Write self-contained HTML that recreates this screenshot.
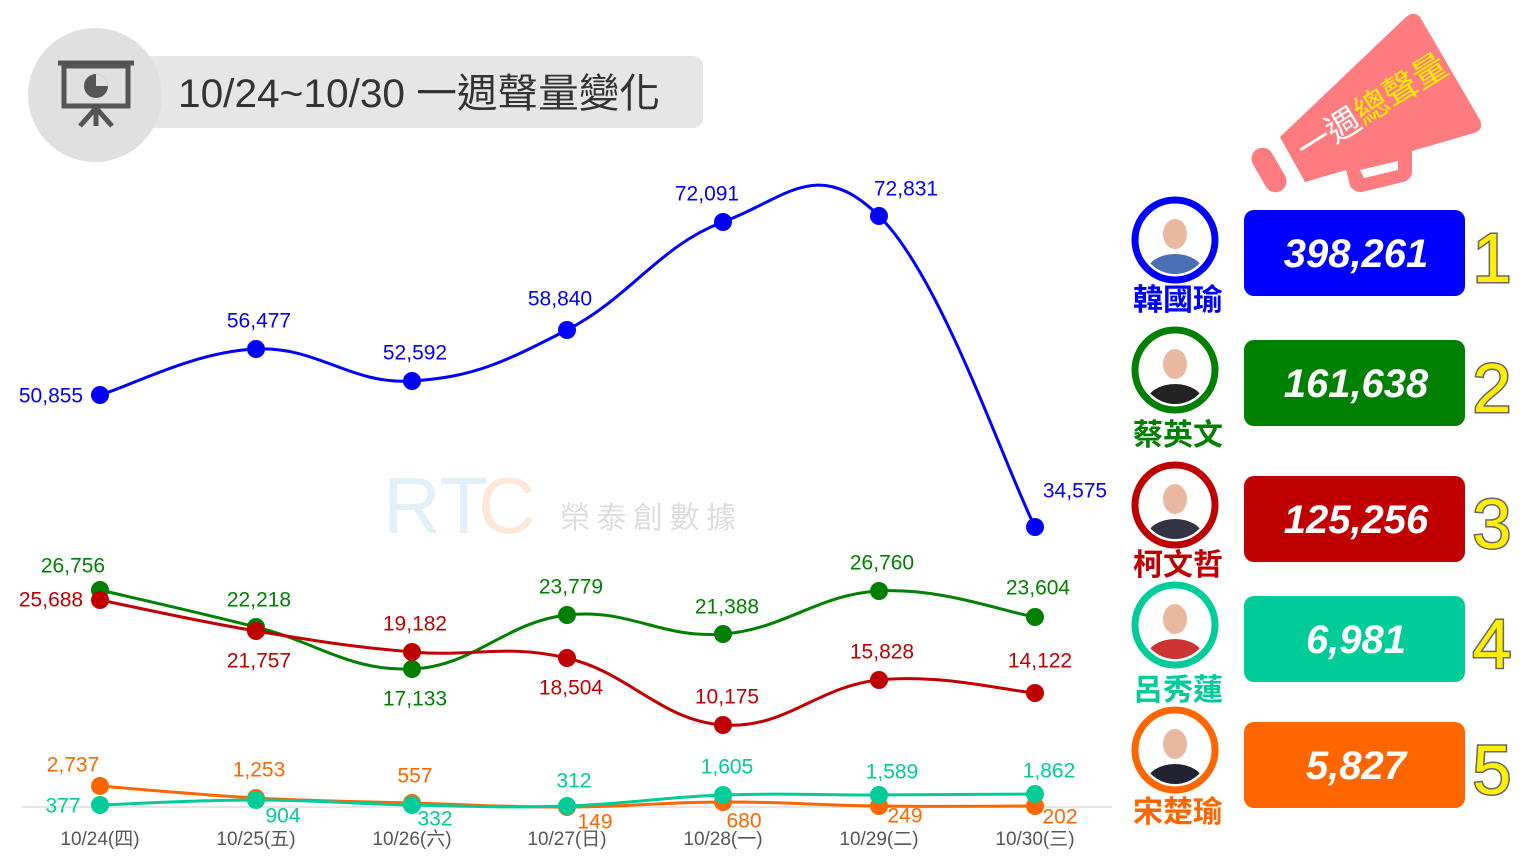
<!DOCTYPE html>
<html><head><meta charset="utf-8"><style>
html,body{margin:0;padding:0;background:#fff;}
body{width:1536px;height:864px;overflow:hidden;position:relative;font-family:"Liberation Sans","Noto Sans CJK TC",sans-serif;}
</style></head><body>
<svg id="s" width="1536" height="864" viewBox="0 0 1536 864" xmlns="http://www.w3.org/2000/svg" style="position:absolute;left:0;top:0;font-family:'Liberation Sans','Noto Sans CJK TC',sans-serif">
<rect x="130" y="56" width="573" height="72" rx="10" fill="#e6e6e6"/>
<circle cx="95" cy="95" r="67" fill="#e0e0e0"/>
<g stroke="#555" stroke-width="5" fill="none">
<rect x="64" y="66" width="64" height="40"/>
<line x1="58" y1="63" x2="134" y2="63"/>
<line x1="96" y1="106" x2="96" y2="126"/>
<line x1="96" y1="108" x2="80" y2="126"/>
<line x1="96" y1="108" x2="112" y2="126"/>
</g>
<circle cx="96" cy="86" r="12" fill="#555"/>
<path d="M96 86 L96 74 A12 12 0 0 1 108 86 Z" fill="#e0e0e0"/>
<text x="178" y="107" font-size="40" fill="#333" textLength="482" lengthAdjust="spacingAndGlyphs">10/24~10/30 一週聲量變化</text>
<g fill="#fe7b80">
<path d="M1280 137 L1405 18 Q1413 10 1420 17 L1480 120 Q1484 130 1474 133 L1305 182 Z"/>
<rect x="1258" y="146" width="22" height="48" rx="11" transform="rotate(-30 1269 170)"/>
<path d="M1345 165 L1412 150 L1412 172 Q1411 180 1403 182 L1362 192 Q1355 193 1350 186 Z"/>
</g>
<path d="M1360 170 L1398 161 L1398 170 L1364 178 Z" fill="#fff"/>
<text transform="translate(1306 162) rotate(-32)" font-size="34" fill="#fff">一週<tspan fill="#ffee00">總聲量</tspan></text>
<text x="383" y="533" font-size="80" fill="#dbeef8" opacity="0.8">RT</text>
<text x="478" y="533" font-size="80" fill="#fbe3d3" opacity="0.8">C</text>
<text x="560" y="528" font-size="30" fill="#ddd" textLength="176">榮泰創數據</text>
<line x1="22" y1="807" x2="1112" y2="807" stroke="#ddd" stroke-width="1.5"/>
<g id="chart"></g>
<g id="right"></g>
</svg>
<script>
var X=[100,256,412,567,723,879,1035];
var S=[
{c:"#0000ff",y:[395,349,381,330,222,216,527],l:[["50,855",51,396],["56,477",259,321],["52,592",415,353],["58,840",560,299],["72,091",707,194],["72,831",906,189],["34,575",1075,491]]},
{c:"#008000",y:[590,627,669,615,634,591,617],l:[["26,756",73,566],["22,218",259,600],["17,133",415,699],["23,779",571,587],["21,388",727,607],["26,760",882,563],["23,604",1038,588]]},
{c:"#c00000",y:[600,631,652,658,725,680,693],l:[["25,688",51,600],["21,757",259,661],["19,182",415,624],["18,504",571,688],["10,175",727,697],["15,828",882,652],["14,122",1040,661]]},
{c:"#ff6600",y:[786,798,803,807,802,806,806],l:[["2,737",73,765],["1,253",259,770],["557",415,776],["149",595,822],["680",744,821],["249",905,816],["202",1060,817]]},
{c:"#00cc99",y:[805,800,805,806,795,795,794],l:[["377",63,806],["904",283,816],["332",435,819],["312",574,781],["1,605",727,767],["1,589",892,772],["1,862",1049,771]]}
];
var g="";
S.forEach(function(s){
 var d="M"+X[0]+" "+s.y[0];
 for(var i=0;i<6;i++){
  var p0=[X[Math.max(i-1,0)],s.y[Math.max(i-1,0)]],p1=[X[i],s.y[i]],p2=[X[i+1],s.y[i+1]],p3=[X[Math.min(i+2,6)],s.y[Math.min(i+2,6)]];
  var t=0.2;
  d+=" C"+(p1[0]+(p2[0]-p0[0])*t)+" "+(p1[1]+(p2[1]-p0[1])*t)+" "+(p2[0]-(p3[0]-p1[0])*t)+" "+(p2[1]-(p3[1]-p1[1])*t)+" "+p2[0]+" "+p2[1];
 }
 g+='<path d="'+d+'" fill="none" stroke="'+s.c+'" stroke-width="3"/>';
 for(var i=0;i<7;i++) g+='<circle cx="'+X[i]+'" cy="'+s.y[i]+'" r="9" fill="'+s.c+'"/>';
 s.l.forEach(function(l){g+='<text x="'+l[1]+'" y="'+l[2]+'" font-size="21" fill="'+s.c+'" text-anchor="middle" dominant-baseline="central">'+l[0]+'</text>';});
});
var days=["四","五","六","日","一","二","三"];
for(var i=0;i<7;i++) g+='<text x="'+X[i]+'" y="845" font-size="19" fill="#555" text-anchor="middle">10/'+(24+i)+'('+days[i]+')</text>';
document.getElementById("chart").innerHTML=g;
var R=[["#0000ff","韓國瑜","398,261",240,300,210,"#4a6fb5"],["#008000","蔡英文","161,638",370,435,340,"#222"],["#c00000","柯文哲","125,256",505,565,476,"#334"],["#00cc99","呂秀蓮","6,981",625,690,596,"#c33"],["#ff6600","宋楚瑜","5,827",750,812,722,"#223"]];
var h="";
R.forEach(function(r,i){
 var cy=r[3];
 h+='<circle cx="1175" cy="'+cy+'" r="40" fill="#fff" stroke="'+r[0]+'" stroke-width="7"/>';
 h+='<clipPath id="c'+i+'"><circle cx="1175" cy="'+cy+'" r="34"/></clipPath><g clip-path="url(#c'+i+')"><ellipse cx="1175" cy="'+(cy+32)+'" rx="28" ry="18" fill="'+r[6]+'"/><ellipse cx="1175" cy="'+(cy-6)+'" rx="12" ry="15" fill="#e8b9a0"/></g>';
 h+='<text x="1178" y="'+(r[4]+10)+'" font-size="30" font-weight="bold" fill="'+r[0]+'" text-anchor="middle">'+r[1]+'</text>';
 h+='<rect x="1244" y="'+r[5]+'" width="221" height="86" rx="10" fill="'+r[0]+'"/>';
 h+='<text x="1356" y="'+(r[5]+57)+'" font-size="40" font-weight="bold" font-style="italic" fill="#fff" text-anchor="middle">'+r[2]+'</text>';
 h+='<text x="1492" y="'+(r[5]+72)+'" font-size="70" fill="#ffee00" stroke="#666" stroke-width="3" paint-order="stroke" text-anchor="middle">'+(i+1)+'</text>';
});
document.getElementById("right").innerHTML=h;
</script>
</body></html>
